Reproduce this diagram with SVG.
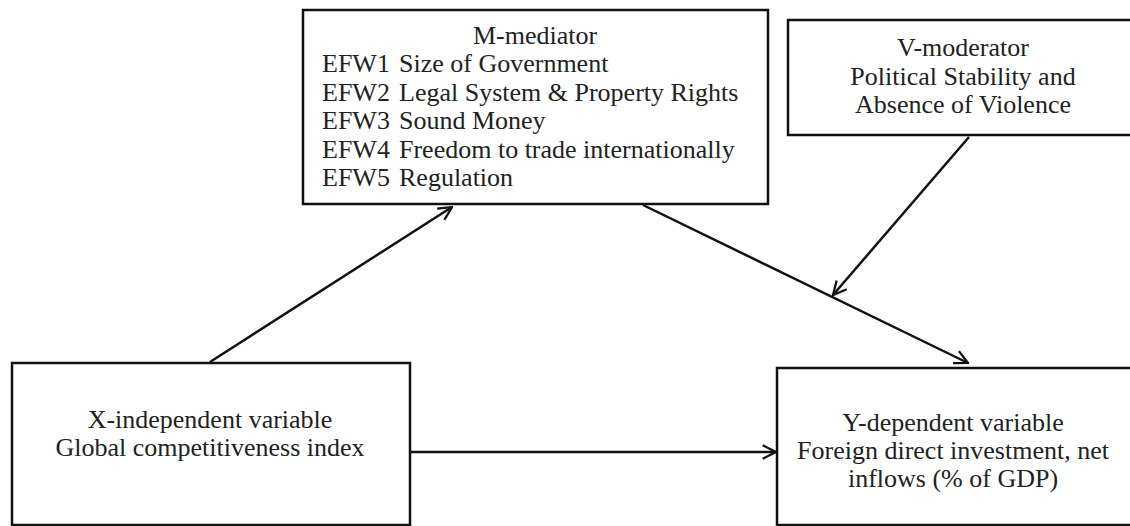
<svg xmlns="http://www.w3.org/2000/svg" width="1130" height="526" viewBox="0 0 1130 526">
<style>
.box{fill:#fff;stroke:#111;stroke-width:2.5}
.t{font-family:"Liberation Serif","Times New Roman",serif;font-size:26px;fill:#222}
.c{text-anchor:middle}
.ln{stroke:#111;stroke-width:2.5;fill:none}
</style>
<defs>
<marker id="ah" viewBox="0 0 12 12" refX="11" refY="6" markerWidth="16" markerHeight="16" markerUnits="userSpaceOnUse" orient="auto">
<path d="M1,1 L11,6 L1,11" fill="none" stroke="#111" stroke-width="1.7"/>
</marker>
</defs>
<rect width="1130" height="526" fill="#fff"/>
<g id="connectors">
<line class="ln" x1="210" y1="362" x2="452" y2="207" marker-end="url(#ah)"/>
<line class="ln" x1="643" y1="205" x2="968" y2="363" marker-end="url(#ah)"/>
<line class="ln" x1="969" y1="137" x2="833" y2="295" marker-end="url(#ah)"/>
<line class="ln" x1="410" y1="452" x2="776" y2="452" marker-end="url(#ah)"/>
</g>
<g id="mediator">
<rect class="box" x="303" y="10" width="465" height="194"/>
<text class="t c" x="535" y="44">M-mediator</text>
<text class="t" x="322" y="72">EFW1</text><text class="t" x="399" y="72">Size of Government</text>
<text class="t" x="322" y="100.5">EFW2</text><text class="t" x="399" y="100.5">Legal System &amp; Property Rights</text>
<text class="t" x="322" y="129">EFW3</text><text class="t" x="399" y="129">Sound Money</text>
<text class="t" x="322" y="157.5">EFW4</text><text class="t" x="399" y="157.5">Freedom to trade internationally</text>
<text class="t" x="322" y="186">EFW5</text><text class="t" x="399" y="186">Regulation</text>
</g>
<g id="moderator">
<rect class="box" x="788" y="20" width="350" height="115"/>
<text class="t c" x="963" y="56">V-moderator</text>
<text class="t c" x="963" y="84.5">Political Stability and</text>
<text class="t c" x="963" y="113">Absence of Violence</text>
</g>
<g id="independent">
<rect class="box" x="12" y="363" width="398" height="162"/>
<text class="t c" x="210" y="428">X-independent variable</text>
<text class="t c" x="210" y="456">Global competitiveness index</text>
</g>
<g id="dependent">
<rect class="box" x="777" y="368" width="360" height="157"/>
<text class="t c" x="953" y="431">Y-dependent variable</text>
<text class="t c" x="953" y="459">Foreign direct investment, net</text>
<text class="t c" x="953" y="487">inflows (% of GDP)</text>
</g>
</svg>
